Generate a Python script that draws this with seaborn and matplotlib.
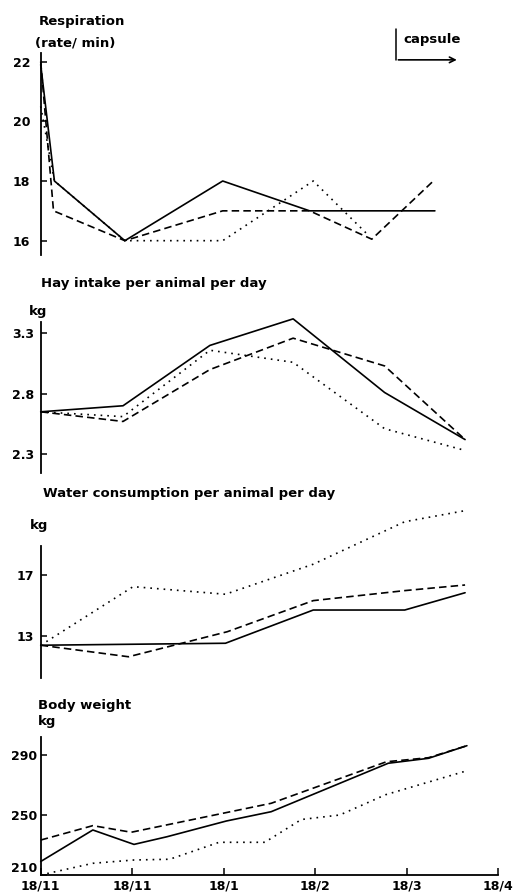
import pandas as pd
import matplotlib
matplotlib.use("Agg")
import matplotlib.pyplot as plt
import seaborn as sns

# x values are months after 18/11
month_labels = ["18/11", "18/11", "18/1", "18/2", "18/3", "18/4"]
capsule_start = 3.88
capsule_end = 4.58

# Respiration (rate/min)
resp_t_solid = [0, 0.15, 0.92, 1.99, 2.94, 4.31]
resp_solid = [21.9, 18.0, 16.0, 18.0, 17.0, 17.0]
resp_t_dashed = [0, 0.14, 0.92, 1.99, 2.94, 3.62, 4.31]
resp_dashed = [22.0, 17.0, 16.0, 17.0, 17.0, 16.05, 18.05]
resp_t_dotted = [0, 0.15, 0.92, 1.99, 2.98, 3.56]
resp_dotted = [20.5, 18.0, 16.0, 16.0, 18.0, 16.25]

# Hay intake per animal per day (kg)
hay_t = [0, 0.90, 1.85, 2.76, 3.76, 4.64]
hay_solid = [2.65, 2.70, 3.20, 3.42, 2.81, 2.42]
hay_dashed = [2.65, 2.57, 3.00, 3.26, 3.03, 2.42]
hay_dotted = [2.65, 2.61, 3.16, 3.06, 2.51, 2.33]

# Water consumption per animal per day (kg)
water_t_solid = [0, 2.02, 2.98, 3.98, 4.64]
water_solid = [12.37, 12.5, 14.69, 14.69, 15.83]
water_t_dashed = [0, 0.96, 2.04, 2.98, 3.98, 4.64]
water_dashed = [12.37, 11.61, 13.26, 15.31, 15.97, 16.34]
water_t_dotted = [0, 1.01, 2.02, 2.98, 3.98, 4.64]
water_dotted = [12.37, 16.23, 15.73, 17.71, 20.51, 21.24]

# Body weight (kg)
bw_t_solid = [0, 0.57, 1.02, 1.38, 2.03, 2.52, 3.80, 4.24, 4.66]
bw_solid = [219.0, 240.0, 230.4, 235.5, 246.0, 252.2, 284.5, 287.8, 296.2]
bw_t_dashed = [0, 0.57, 0.99, 2.52, 3.78, 4.24, 4.66]
bw_dashed = [233.3, 242.9, 238.5, 257.8, 285.5, 288.2, 296.2]
bw_t_dotted = [0, 0.57, 1.02, 1.41, 1.95, 2.45, 2.85, 3.27, 3.77, 4.66]
bw_dotted = [210.0, 217.8, 220.0, 220.5, 231.8, 231.8, 247.0, 250.0, 263.5, 279.5]

sns.set_style("ticks")
plt.rcParams["font.family"] = ["DejaVu Sans"]
plt.rcParams["font.weight"] = "bold"
plt.rcParams["text.color"] = "black"
plt.rcParams["xtick.color"] = "black"
plt.rcParams["ytick.color"] = "black"
plt.rcParams["axes.edgecolor"] = "black"

W, H = 516, 893
fig = plt.figure(figsize=(W / 100, H / 100), dpi=100)


def box(top, bottom):
    left, right = 40.7, 498
    return [left / W, 1 - bottom / H, (right - left) / W, (bottom - top) / H]


def long_form(parts):
    frames = [pd.DataFrame({"t": t, "value": v, "kind": k}) for k, t, v in parts]
    return pd.concat(frames, ignore_index=True)


styles = {"solid": "", "dashed": (4.5, 2.5), "dotted": (1, 3)}


def draw(ax, df, ticks, labels, ylim, pad, bottom_axis=False):
    sns.lineplot(data=df, x="t", y="value", style="kind", dashes=styles,
                 style_order=["solid", "dashed", "dotted"], color="black",
                 lw=1.2, estimator=None, sort=False, legend=False, ax=ax,
                 clip_on=False)
    ax.set_xlim(0, 5)
    ax.set_ylim(*ylim)
    ax.set_xlabel("")
    ax.set_ylabel("")
    ax.set_yticks(ticks)
    ax.set_yticklabels(labels)
    for s in ["top", "right"]:
        ax.spines[s].set_visible(False)
    ax.spines["left"].set_linewidth(1.3)
    ax.tick_params(axis="y", direction="in", length=4, width=1.1, pad=pad,
                   labelsize=9)
    if bottom_axis:
        ax.spines["bottom"].set_linewidth(1.3)
        ax.set_xticks(range(len(month_labels)))
        ax.set_xticklabels(month_labels)
        ax.tick_params(axis="x", direction="in", length=5, width=1.1, pad=3,
                       labelsize=9)
    else:
        ax.spines["bottom"].set_visible(False)
        ax.set_xticks([])
    ax.patch.set_alpha(0)


ax1 = fig.add_axes(box(52.7, 255))
draw(ax1, long_form([("solid", resp_t_solid, resp_solid),
                     ("dashed", resp_t_dashed, resp_dashed),
                     ("dotted", resp_t_dotted, resp_dotted)]),
     [16, 18, 20, 22], ["16", "18", "20", "22"], (15.52, 22.30), pad=7.5)
ax1.plot([capsule_start, capsule_start], [23.1, 22.06], color="black",
         lw=1.1, clip_on=False)
ax1.annotate("", xy=(capsule_end, 22.06), xytext=(capsule_start, 22.06),
             arrowprops=dict(arrowstyle="->", lw=1.2, color="black"),
             annotation_clip=False)

ax2 = fig.add_axes(box(322, 473))
draw(ax2, long_form([("solid", hay_t, hay_solid),
                     ("dashed", hay_t, hay_dashed),
                     ("dotted", hay_t, hay_dotted)]),
     [2.3, 2.8, 3.3], ["2.3", "2.8", "3.3"], (2.143, 3.394), pad=5)

ax3 = fig.add_axes(box(546, 678))
draw(ax3, long_form([("solid", water_t_solid, water_solid),
                     ("dashed", water_t_dashed, water_dashed),
                     ("dotted", water_t_dotted, water_dotted)]),
     [13, 17], ["13", "17"], (10.21, 18.91), pad=5)

ax4 = fig.add_axes(box(736.7, 875))
draw(ax4, long_form([("solid", bw_t_solid, bw_solid),
                     ("dashed", bw_t_dashed, bw_dashed),
                     ("dotted", bw_t_dotted, bw_dotted)]),
     [210, 250, 290], ["210", "250", "290"], (210, 302.2), pad=2.5,
     bottom_axis=True)
ax4.get_yticklabels()[0].set_va("bottom")


def label(x, y, s):
    fig.text(x / W, 1 - y / H, s, ha="left", va="center", fontsize=9.5,
             fontweight="bold")


label(39, 21, "Respiration")
label(35, 43, "(rate/ min)")
label(403, 40, "capsule")
label(40.7, 284, "Hay intake per animal per day")
label(29, 312, "kg")
label(43, 493, "Water consumption per animal per day")
label(30, 525, "kg")
label(38, 705, "Body weight")
label(38, 722, "kg")

fig.savefig("out.png", dpi=100)
